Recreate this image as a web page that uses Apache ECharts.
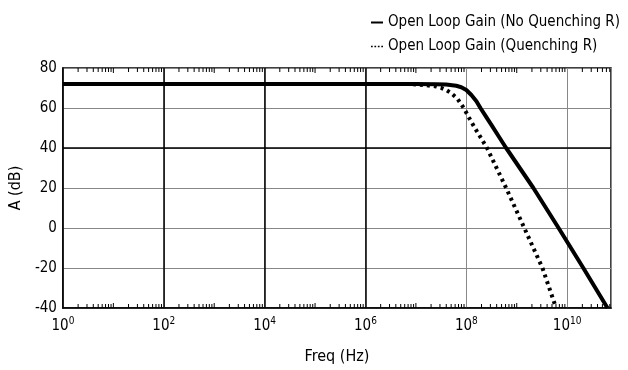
<!DOCTYPE html>
<html>
<head>
<meta charset="utf-8">
<script src="https://cdn.jsdelivr.net/npm/echarts@6/dist/echarts.min.js"></script>
<style>
  html, body { margin: 0; padding: 0; background: #fff; }
  #chart { width: 628px; height: 370px; }
</style>
</head>
<body>
<div id="chart"></div>
<script>
// values: frequency as power of ten, gain in dB
var noQuenchExp = [0, 4, 7, 7.4, 7.6, 7.8, 7.9, 8.0, 8.1, 8.2, 8.28, 8.4, 8.5, 8.65, 8.79, 9.33, 9.83, 10.32, 10.8];
var noQuenchDb  = [72, 72, 72, 71.9, 71.7, 71.1, 70.4, 69, 66.5, 63.4, 60, 55.3, 51.4, 45.5, 40, 20, 0, -20, -40];
var quenchExp = [0, 4, 6.8, 7.0, 7.2, 7.4, 7.5, 7.6, 7.7, 7.82, 7.95, 8.05, 8.17, 8.41, 8.79, 9.15, 9.51, 9.78];
var quenchDb  = [72, 72, 72, 71.8, 71.4, 70.8, 70.1, 69, 67.4, 64.8, 60, 55.3, 50, 40, 20, 0, -20, -40];
var seriesNames = ['Open Loop Gain (No Quenching R)', 'Open Loop Gain (Quenching R)'];
var yTicks = [-40, -20, 0, 20, 40, 60, 80];
// grid lines that print darker in the original
var darkFreqLines = [1e2, 1e4, 1e6];
var darkGainLines = [40];

var xMax = 7.4e10;
var fontFam = "'Liberation Sans Narrow', 'DejaVu Sans Condensed', sans-serif";

function toPairs(exps, dbs) {
  return exps.map(function (e, i) { return [Math.pow(10, e), dbs[i]]; });
}

var chart = echarts.init(document.getElementById('chart'));

var darkLines = darkFreqLines.map(function (f) { return { xAxis: f }; })
  .concat(darkGainLines.map(function (g) { return { yAxis: g }; }));

var option = {
  animation: false,
  legend: {
    orient: 'vertical',
    left: 366,
    top: 10,
    itemWidth: 12,
    itemHeight: 2,
    itemGap: 9,
    textStyle: { fontFamily: fontFam, fontSize: 15, color: '#000' },
    data: [
      { name: seriesNames[0], icon: 'rect' },
      { name: seriesNames[1], icon: 'path://M0,0h2v2h-2zM4,0h2v2h-2zM8,0h2v2h-2zM12,0h2v2h-2z' }
    ]
  },
  grid: {
    left: 62, right: 17, top: 68, bottom: 61,
    show: true, borderColor: '#000', borderWidth: 1.5
  },
  xAxis: {
    type: 'log',
    logBase: 10,
    min: 1,
    max: xMax,
    interval: 2,
    name: 'Freq (Hz)',
    nameLocation: 'middle',
    nameGap: 41,
    nameTextStyle: { fontFamily: fontFam, fontSize: 16, color: '#000' },
    axisLine: { onZero: false, lineStyle: { color: '#000', width: 1.5 } },
    axisTick: { show: false },
    axisLabel: {
      margin: 8,
      formatter: function (v) {
        var e = Math.log10(v);
        if (Math.abs(e - Math.round(e)) > 1e-6) return '';
        return '{b|10}{s|' + Math.round(e) + '}';
      },
      rich: {
        b: { fontFamily: fontFam, fontSize: 15, color: '#000' },
        s: { fontFamily: fontFam, fontSize: 10, color: '#000', verticalAlign: 'top', padding: [0, 0, 10, 0] }
      }
    },
    splitLine: { show: true, lineStyle: { color: '#888', width: 1 } }
  },
  yAxis: {
    type: 'value',
    min: yTicks[0],
    max: yTicks[yTicks.length - 1],
    interval: 20,
    name: 'A (dB)',
    nameLocation: 'middle',
    nameGap: 31,
    nameTextStyle: { fontFamily: fontFam, fontSize: 16, color: '#000' },
    axisLine: { show: true, onZero: false, lineStyle: { color: '#000', width: 1.5 } },
    axisTick: { show: false },
    axisLabel: { fontFamily: fontFam, fontSize: 15, color: '#000', margin: 6 },
    splitLine: { lineStyle: { color: '#888', width: 1 } }
  },
  series: [
    {
      name: seriesNames[0],
      type: 'line',
      data: toPairs(noQuenchExp, noQuenchDb),
      showSymbol: false,
      lineStyle: { color: '#000', width: 4 },
      itemStyle: { color: '#000' },
      markLine: {
        silent: true,
        symbol: 'none',
        label: { show: false },
        lineStyle: { color: '#000', width: 1.5, type: 'solid' },
        data: darkLines
      },
      z: 3
    },
    {
      name: seriesNames[1],
      type: 'line',
      data: toPairs(quenchExp, quenchDb),
      showSymbol: false,
      lineStyle: { color: '#000', width: 4, type: [3, 4], cap: 'butt' },
      itemStyle: { color: '#000' },
      z: 3
    },
    {
      // log minor ticks along the top and bottom frame
      type: 'custom',
      silent: true,
      data: [[1, 0]],
      renderItem: function (params, api) {
        var kids = [];
        for (var k = 0; k <= 10; k++) {
          for (var m = 1; m <= 9; m++) {
            var f = m * Math.pow(10, k);
            if (f > xMax) continue;
            if (m === 1 && k % 2 === 0) continue;
            var top = api.coord([f, 80]);
            var bot = api.coord([f, -40]);
            var len = m === 1 ? 5 : 4;
            kids.push({ type: 'line', shape: { x1: top[0], y1: top[1], x2: top[0], y2: top[1] + len }, style: { stroke: '#000', lineWidth: 1 } });
            kids.push({ type: 'line', shape: { x1: bot[0], y1: bot[1], x2: bot[0], y2: bot[1] - len }, style: { stroke: '#000', lineWidth: 1 } });
          }
        }
        return { type: 'group', children: kids };
      },
      z: 4
    }
  ]
};

chart.setOption(option);
</script>
</body>
</html>
